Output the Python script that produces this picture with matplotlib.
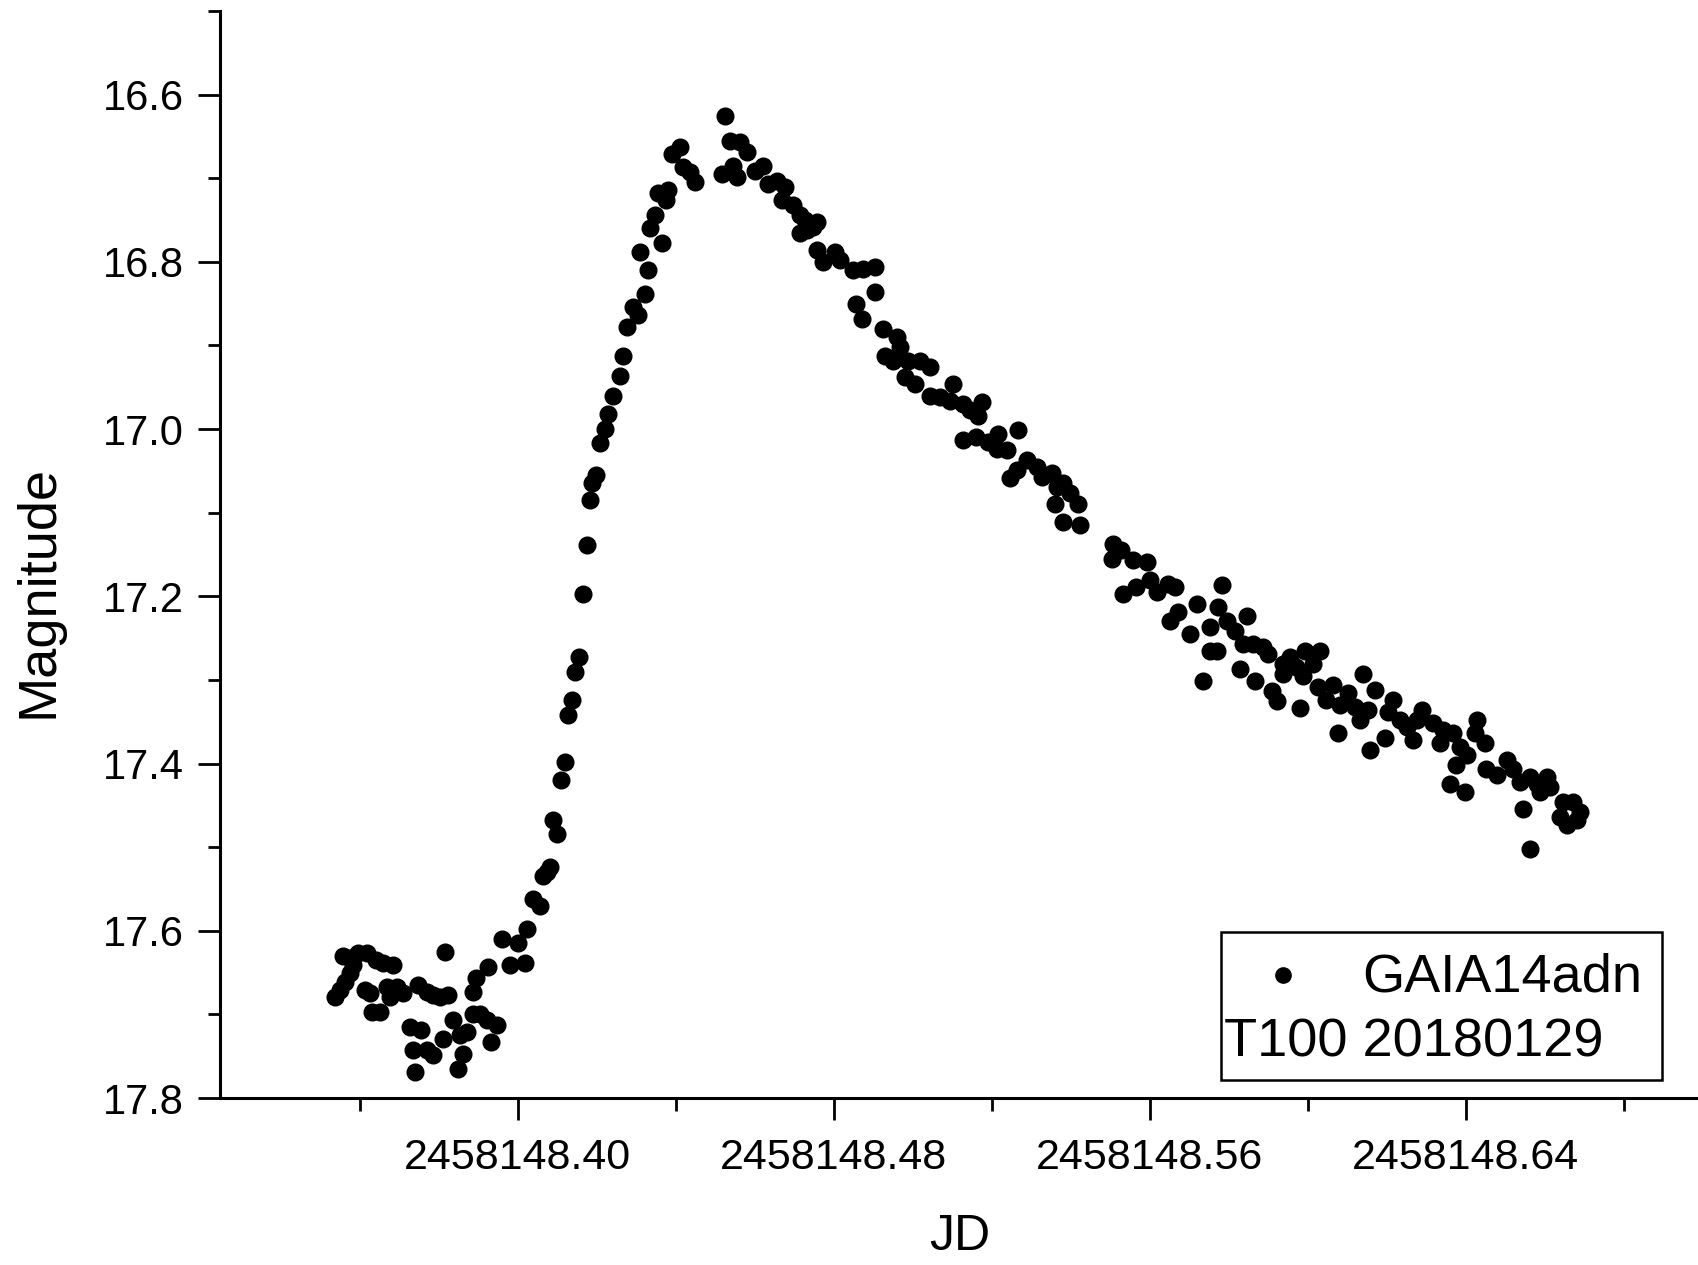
import numpy as np
import matplotlib
matplotlib.use("Agg")
import matplotlib.pyplot as plt
from matplotlib.ticker import FixedLocator, FormatStrFormatter, MultipleLocator
from matplotlib.patches import Rectangle

plt.rcParams['font.family'] = ['Liberation Sans', 'DejaVu Sans']

# light curve: JD = JD0 + jd_frac
JD0 = 2458148.0
jd_frac = [
    # quiescence before the outburst
    0.3537, 0.3549, 0.3562, 0.3575, 0.3558, 0.3575, 0.3596, 0.3617, 0.3642, 0.3659,
    0.3684, 0.3583, 0.3613, 0.3625, 0.3630, 0.3651, 0.3668, 0.3693, 0.3710, 0.3676,
    0.3748, 0.3769, 0.3786, 0.3803, 0.3824, 0.3815, 0.3727, 0.3756, 0.3735, 0.3769,
    0.3786, 0.3739, 0.3811, 0.3836, 0.3853, 0.3870, 0.3862, 0.3849, 0.3887, 0.3904,
    0.3921, 0.3946, 0.3933, 0.3887, 0.3895, 0.3925, 0.3959, 0.3980, 0.4001, 0.4018,
    0.4022, 0.4039, 0.4056, 0.4073,
    # rise
    0.4081, 0.4064, 0.4100, 0.4089, 0.4108, 0.4119, 0.4127, 0.4136, 0.4144, 0.4155,
    0.4164, 0.4174, 0.4182, 0.4187, 0.4199, 0.4208, 0.4220,
    0.4229, 0.4241, 0.4258, 0.4265, 0.4275, 0.4292, 0.4304, 0.4321, 0.4329, 0.4309,
    0.4334, 0.4347, 0.4364, 0.4355, 0.4381, 0.4376, 0.4389, 0.4410, 0.4419, 0.4436,
    0.4448,
    # decline
    0.4524, 0.4516, 0.4537, 0.4545, 0.4554, 0.4562, 0.4579, 0.4600, 0.4621, 0.4634,
    0.4655, 0.4676, 0.4668, 0.4697, 0.4714, 0.4727, 0.4756, 0.4714, 0.4731, 0.4748,
    0.4756, 0.4773, 0.4803, 0.4815,
    0.4849, 0.4874, 0.4904, 0.4904, 0.4857, 0.4870, 0.4925, 0.4959, 0.4967, 0.4929,
    0.4950, 0.4988, 0.5017, 0.5043, 0.4981, 0.5006, 0.5043, 0.5068, 0.5102, 0.5094,
    0.5127, 0.5144, 0.5174, 0.5165, 0.5127, 0.5161, 0.5190, 0.5216, 0.5212, 0.5237,
    0.5267, 0.5246, 0.5263, 0.5288, 0.5313, 0.5326, 0.5351, 0.5364, 0.5381, 0.5360,
    0.5398, 0.5419, 0.5381, 0.5423, 0.5507,
    0.5503, 0.5528, 0.5558, 0.5592, 0.5533, 0.5566, 0.5600, 0.5617, 0.5646, 0.5663,
    0.5651, 0.5672, 0.5701, 0.5718, 0.5752, 0.5752, 0.5769, 0.5735, 0.5782, 0.5773,
    0.5794, 0.5815, 0.5845, 0.5836, 0.5862, 0.5887, 0.5900, 0.5828, 0.5866, 0.5908,
    0.5921, 0.5938, 0.5955, 0.5938, 0.5971,
    0.5992, 0.6030, 0.6013, 0.5988, 0.6026, 0.6064, 0.6102, 0.6047, 0.6081, 0.6119,
    0.6153, 0.6132, 0.5981, 0.6077, 0.6140, 0.6170, 0.6216, 0.6203, 0.6233, 0.6250,
    0.6288, 0.6275, 0.6317, 0.6343, 0.6368, 0.6267, 0.6195, 0.6157, 0.6334, 0.6385,
    0.6402, 0.6376, 0.6427, 0.6423, 0.6448, 0.6359, 0.6397, 0.6452, 0.6478, 0.6504,
    0.6520, 0.6537, 0.6545, 0.6562, 0.6579, 0.6604, 0.6588, 0.6613, 0.6646, 0.6672,
    0.6638, 0.6655, 0.6689, 0.6680, 0.6562,
]
mag = [
    17.679, 17.671, 17.661, 17.651, 17.630, 17.632, 17.626, 17.626, 17.635, 17.639,
    17.641, 17.641, 17.671, 17.675, 17.697, 17.697, 17.667, 17.667, 17.675, 17.679,
    17.665, 17.673, 17.677, 17.679, 17.677, 17.625, 17.715, 17.719, 17.743, 17.743,
    17.749, 17.769, 17.729, 17.707, 17.725, 17.721, 17.747, 17.765, 17.699, 17.699,
    17.707, 17.713, 17.733, 17.673, 17.657, 17.643, 17.610, 17.641, 17.615, 17.639,
    17.598, 17.562, 17.570, 17.530,
    17.524, 17.534, 17.484, 17.468, 17.420, 17.398, 17.342, 17.324, 17.291, 17.273,
    17.197, 17.139, 17.085, 17.065, 17.055, 17.017, 17.000,
    16.982, 16.960, 16.936, 16.912, 16.878, 16.854, 16.864, 16.838, 16.810, 16.788,
    16.760, 16.744, 16.778, 16.718, 16.714, 16.726, 16.671, 16.663, 16.687, 16.693,
    16.705,
    16.625, 16.695, 16.655, 16.685, 16.699, 16.657, 16.669, 16.691, 16.685, 16.707,
    16.703, 16.711, 16.726, 16.732, 16.744, 16.750, 16.752, 16.766, 16.762, 16.758,
    16.786, 16.800, 16.788, 16.798,
    16.810, 16.808, 16.806, 16.836, 16.850, 16.868, 16.880, 16.890, 16.902, 16.912,
    16.918, 16.918, 16.918, 16.926, 16.938, 16.946, 16.960, 16.962, 16.946, 16.966,
    16.970, 16.977, 16.968, 16.984, 17.013, 17.009, 17.016, 17.006, 17.024, 17.025,
    17.001, 17.059, 17.049, 17.037, 17.045, 17.057, 17.053, 17.069, 17.065, 17.089,
    17.077, 17.089, 17.111, 17.115, 17.137,
    17.155, 17.145, 17.157, 17.159, 17.197, 17.189, 17.181, 17.195, 17.185, 17.189,
    17.229, 17.219, 17.245, 17.209, 17.237, 17.265, 17.265, 17.301, 17.187, 17.213,
    17.229, 17.241, 17.223, 17.257, 17.257, 17.261, 17.269, 17.287, 17.301, 17.313,
    17.325, 17.281, 17.273, 17.293, 17.285,
    17.265, 17.265, 17.281, 17.295, 17.308, 17.306, 17.316, 17.324, 17.330, 17.332,
    17.336, 17.348, 17.334, 17.364, 17.293, 17.312, 17.324, 17.338, 17.348, 17.356,
    17.336, 17.348, 17.352, 17.360, 17.364, 17.372, 17.370, 17.384, 17.376, 17.380,
    17.390, 17.402, 17.348, 17.364, 17.376, 17.424, 17.434, 17.406, 17.414, 17.396,
    17.406, 17.422, 17.454, 17.416, 17.424, 17.416, 17.434, 17.428, 17.446, 17.446,
    17.464, 17.474, 17.458, 17.468, 17.502,
]

x_major = [2458148.40, 2458148.48, 2458148.56, 2458148.64]
x_minor = [2458148.36, 2458148.44, 2458148.52, 2458148.60, 2458148.68]

jd = JD0 + np.array(jd_frac)
mag = np.array(mag)

fig = plt.figure(figsize=(16.99, 12.65), dpi=100)
ax = fig.add_axes([0.1295, 0.132, 0.8705, 0.8593])

ax.plot(jd, mag, 'o', color='black', markersize=12, linestyle='none', clip_on=False)

ax.set_xlim(2458148.3246, 2458148.699)
ax.set_ylim(17.8, 16.5)

ax.xaxis.set_major_locator(FixedLocator(x_major))
ax.xaxis.set_minor_locator(FixedLocator(x_minor))
ax.xaxis.set_major_formatter(FormatStrFormatter('%.2f'))
ax.yaxis.set_major_locator(MultipleLocator(0.2))
ax.yaxis.set_minor_locator(MultipleLocator(0.1))
ax.yaxis.set_major_formatter(FormatStrFormatter('%.1f'))

for s in ['top', 'right']:
    ax.spines[s].set_visible(False)
for s in ['left', 'bottom']:
    ax.spines[s].set_linewidth(2.2)

ax.tick_params(which='major', direction='out', length=16, width=2.0)
ax.tick_params(which='minor', direction='out', length=9, width=2.0)
ax.tick_params(axis='y', which='major', pad=10, labelsize=30)
ax.tick_params(axis='x', which='major', pad=13, labelsize=31)

ax.set_xlabel('JD', fontsize=36, labelpad=26)
ax.set_ylabel('Magnitude', fontsize=39)
ax.yaxis.set_label_coords(-0.106, 0.466)

# legend box as drawn in the original
ax.add_patch(Rectangle((0.677, 0.0166), 0.298, 0.1364, transform=ax.transAxes,
                       fill=False, edgecolor='black', linewidth=1.8, zorder=5))
ax.plot([0.719], [0.113], 'o', color='black', markersize=11, transform=ax.transAxes)
ax.text(0.772, 0.111, 'GAIA14adn', transform=ax.transAxes, fontsize=39,
        ha='left', va='center')
ax.text(0.679, 0.051, 'T100 20180129', transform=ax.transAxes, fontsize=39,
        ha='left', va='center')

fig.savefig('out.png', dpi=100)
